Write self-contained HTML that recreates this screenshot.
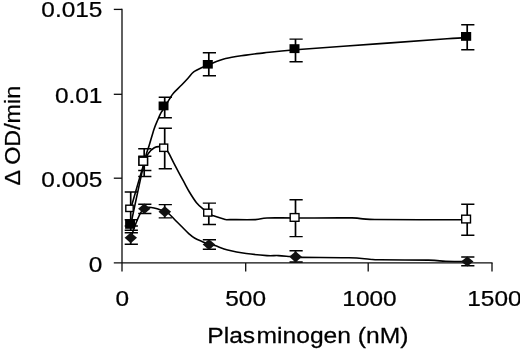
<!DOCTYPE html>
<html><head><meta charset="utf-8"><title>Plasminogen chart</title>
<style>
html,body{margin:0;padding:0;background:#fff;}
body{width:520px;height:351px;overflow:hidden;}
svg{display:block;}
text{font-family:"Liberation Sans",sans-serif;fill:#000;stroke:#000;stroke-width:0.25px;}
</style></head><body>
<svg width="520" height="351" viewBox="0 0 520 351">
<rect width="520" height="351" fill="#fff"/>
<g stroke="#0c0c0c" stroke-width="1.3" fill="none">
<path d="M122.0 8.8V271.5"/>
<path d="M113.8 262.9H492.6"/>
<path d="M113.8 9.4H122.0"/>
<path d="M113.8 94.3H122.0"/>
<path d="M113.8 178.2H122.0"/>
<path d="M245.7 262.9V271.5"/>
<path d="M368.2 262.9V271.5"/>
<path d="M492.0 262.9V271.5"/>
</g>
<text transform="translate(102.4,17.4) scale(1.085,1)" text-anchor="end" font-size="22.5">0.015</text>
<text transform="translate(102.4,102.7) scale(1.085,1)" text-anchor="end" font-size="22.5">0.01</text>
<text transform="translate(102.4,186.8) scale(1.085,1)" text-anchor="end" font-size="22.5">0.005</text>
<text transform="translate(102.4,271.8) scale(1.085,1)" text-anchor="end" font-size="22.5">0</text>
<text transform="translate(122.2,305.6) scale(1.085,1)" text-anchor="middle" font-size="22.5">0</text>
<text transform="translate(245.6,305.6) scale(1.085,1)" text-anchor="middle" font-size="22.5">500</text>
<text transform="translate(369.5,305.6) scale(1.085,1)" text-anchor="middle" font-size="22.5">1000</text>
<text transform="translate(494.4,305.6) scale(1.085,1)" text-anchor="middle" font-size="22.5">1500</text>
<text transform="translate(307.85,343.3) scale(1.095,1)" text-anchor="middle" font-size="22.5">Plas<tspan dx="1.25">minogen</tspan> (nM)</text>
<text transform="translate(19.7,135.7) rotate(-90) scale(1.06,1)" text-anchor="middle" font-size="22">Δ OD/min</text>
<g stroke="#000" stroke-width="1.6" fill="none" stroke-linejoin="round" stroke-linecap="round">
<path d="M130.7 225C132.9 214.6 141.1 175.8 144.2 162.6C147.2 149.4 147.3 151.6 149 146C150.7 140.4 152.7 133.3 154.1 129C155.5 124.7 156.5 122.8 157.7 120C158.9 117.2 160.0 114.5 161.2 112.4C162.4 110.3 163.3 109.5 164.7 107.3C166.1 105.0 168.1 101.3 169.6 98.9C171.1 96.5 171.6 95.3 173.6 93C175.6 90.7 179.2 87.5 181.6 85C184.0 82.5 186.0 80.4 188 78.2C190.0 76.0 191.2 73.7 193.7 71.9C196.2 70.1 200.3 68.4 202.8 67.2C205.3 66.0 205.0 66.0 208.8 64.6C212.6 63.2 219.4 60.2 225.6 58.6C231.8 57.0 239.6 56.1 246 55.1C252.4 54.1 255.8 53.8 264 52.9C272.2 52.0 276.2 51.3 295.5 49.75C314.8 48.2 354.8 45.4 380 43.6C405.2 41.8 432.5 39.8 447 38.8C461.5 37.8 463.8 37.7 467.2 37.5"/>
<path d="M130.7 209C132.9 201.3 141.1 172.4 144.2 163C147.3 153.6 147.4 155.0 149.1 152.5C150.8 150.0 152.7 148.8 154.3 147.8C156.0 146.8 157.3 146.5 159 146.6C160.7 146.7 163.1 147.2 164.7 148.2C166.3 149.2 166.9 150.1 168.4 152.5C169.9 154.9 171.3 158.2 173.7 162.8C176.1 167.4 180.1 175.0 182.8 179.9C185.5 184.8 187.4 188.7 189.7 192.5C192.0 196.3 194.2 199.9 196.5 202.7C198.8 205.5 201.2 207.4 203.3 209.2C205.4 211.0 207.3 212.7 208.8 213.7C210.3 214.7 209.9 214.5 212.5 215.4C215.1 216.3 221.6 218.6 224.5 219.3C227.4 220.0 224.8 219.6 230 219.6C235.2 219.6 249.2 219.9 255.4 219.6C261.6 219.3 260.3 218.3 267 218C273.7 217.7 281.3 218.0 295.5 218C309.7 218.0 338.8 217.7 352 217.9C365.2 218.2 355.6 219.2 374.8 219.5C394.0 219.8 451.8 219.7 467.2 219.7"/>
<path d="M130.7 237.7C132.9 232.9 138.2 213.1 143.9 208.7C149.6 204.3 160.4 210.5 164.7 211.5C169.0 212.5 168.0 213.1 169.7 214.5C171.4 215.9 172.8 217.7 174.8 219.7C176.8 221.7 179.3 224.2 181.6 226.5C183.9 228.8 186.3 231.4 188.5 233.3C190.7 235.2 192.1 236.6 194.5 238C196.9 239.4 200.6 240.8 203 241.9C205.4 243.0 206.8 243.8 208.8 244.4C210.8 245.0 211.7 244.7 214.8 245.6C218.0 246.5 222.5 248.7 227.7 250C232.9 251.3 239.6 252.6 246.2 253.5C252.8 254.4 261.6 255.2 267 255.6C272.4 255.9 274.7 255.4 278.5 255.6C282.3 255.8 287.2 256.3 290 256.5C292.8 256.7 293.8 256.6 295.5 256.7C297.2 256.8 291.1 257.2 300 257.4C308.9 257.6 337.4 257.5 349 257.8C360.6 258.1 364.4 258.9 369.6 259.2C374.8 259.5 370.2 259.6 380 259.8C389.8 260.0 417.5 259.9 428.5 260.1C439.5 260.4 439.4 261.1 445.8 261.3C452.2 261.5 463.6 261.5 467.2 261.5"/>
</g>
<g stroke="#000" fill="none">
<path stroke-width="1.7" d="M130.7 219.8V230.2"/><path stroke-width="1.4" d="M124.7 219.8H137.9M124.7 230.2H137.9"/>
<path stroke-width="1.7" d="M144.2 148.8V176.5"/><path stroke-width="1.4" d="M138.2 148.8H151.4M138.2 176.5H151.4"/>
<path stroke-width="1.7" d="M164.7 97.2V117.8"/><path stroke-width="1.4" d="M158.7 97.2H171.9M158.7 117.8H171.9"/>
<path stroke-width="1.7" d="M208.8 52.8V75.7"/><path stroke-width="1.4" d="M202.8 52.8H216.0M202.8 75.7H216.0"/>
<path stroke-width="1.7" d="M295.5 39.1V61.8"/><path stroke-width="1.4" d="M289.5 39.1H302.7M289.5 61.8H302.7"/>
<path stroke-width="1.7" d="M467.2 24.8V49.8"/><path stroke-width="1.4" d="M461.2 24.8H474.4M461.2 49.8H474.4"/>
<path stroke-width="1.7" d="M130.7 192.0V226.0"/><path stroke-width="1.4" d="M124.7 192.0H137.9M124.7 226.0H137.9"/>
<path stroke-width="1.7" d="M144.2 156.3V170.5"/><path stroke-width="1.4" d="M138.2 156.3H151.4M138.2 170.5H151.4"/>
<path stroke-width="1.7" d="M164.7 128.2V168.7"/><path stroke-width="1.4" d="M158.7 128.2H171.9M158.7 168.7H171.9"/>
<path stroke-width="1.7" d="M208.8 203.1V224.5"/><path stroke-width="1.4" d="M202.8 203.1H216.0M202.8 224.5H216.0"/>
<path stroke-width="1.7" d="M295.5 199.8V236.6"/><path stroke-width="1.4" d="M289.5 199.8H302.7M289.5 236.6H302.7"/>
<path stroke-width="1.7" d="M467.2 204.3V235.3"/><path stroke-width="1.4" d="M461.2 204.3H474.4M461.2 235.3H474.4"/>
<path stroke-width="1.7" d="M130.7 232.8V244.2"/><path stroke-width="1.4" d="M124.7 232.8H137.9M124.7 244.2H137.9"/>
<path stroke-width="1.7" d="M144.2 204.2V213.5"/><path stroke-width="1.4" d="M138.2 204.2H151.4M138.2 213.5H151.4"/>
<path stroke-width="1.7" d="M164.7 204.6V217.9"/><path stroke-width="1.4" d="M158.7 204.6H171.9M158.7 217.9H171.9"/>
<path stroke-width="1.7" d="M208.8 239.8V249.3"/><path stroke-width="1.4" d="M202.8 239.8H216.0M202.8 249.3H216.0"/>
<path stroke-width="1.7" d="M295.5 250.7V262.0"/><path stroke-width="1.4" d="M289.5 250.7H302.7M289.5 262.0H302.7"/>
<path stroke-width="1.7" d="M467.2 257.0V265.8"/><path stroke-width="1.4" d="M461.2 257.0H474.4M461.2 265.8H474.4"/>
</g>
<rect x="125.1" y="219.7" width="9.9" height="9.1" fill="#000"/>
<rect x="138.3" y="156.5" width="9.9" height="9.4" fill="#000"/>
<rect x="158.6" y="101.5" width="9.9" height="8.8" fill="#000"/>
<rect x="202.8" y="60.0" width="10.0" height="8.6" fill="#000"/>
<rect x="289.5" y="44.2" width="10.0" height="8.9" fill="#000"/>
<rect x="461.0" y="32.0" width="10.2" height="8.8" fill="#000"/>
<rect x="125.80" y="205.20" width="7.4" height="6.3" fill="#fff" stroke="#000" stroke-width="1.4"/>
<rect x="139.00" y="157.20" width="8.5" height="8.0" fill="#fff" stroke="#000" stroke-width="1.4"/>
<rect x="159.70" y="144.10" width="8.0" height="7.3" fill="#fff" stroke="#000" stroke-width="1.4"/>
<rect x="203.70" y="209.20" width="8.1" height="6.9" fill="#fff" stroke="#000" stroke-width="1.4"/>
<rect x="290.20" y="213.60" width="8.8" height="7.7" fill="#fff" stroke="#000" stroke-width="1.4"/>
<rect x="461.70" y="215.20" width="8.8" height="7.7" fill="#fff" stroke="#000" stroke-width="1.4"/>
<path d="M124.6 237.8L130.8 232.4L137.0 237.8L130.8 243.2Z" fill="#111"/>
<path d="M138.1 208.8L144.3 203.6L150.5 208.8L144.3 214.0Z" fill="#111"/>
<path d="M158.5 211.8L164.8 206.3L171.1 211.8L164.8 217.2Z" fill="#111"/>
<path d="M202.7 244.6L209.0 239.2L215.3 244.6L209.0 250.0Z" fill="#111"/>
<path d="M289.3 256.8L295.6 251.2L301.9 256.8L295.6 262.4Z" fill="#111"/>
<path d="M461.1 261.5L467.3 256.4L473.5 261.5L467.3 266.6Z" fill="#111"/>
</svg></body></html>
